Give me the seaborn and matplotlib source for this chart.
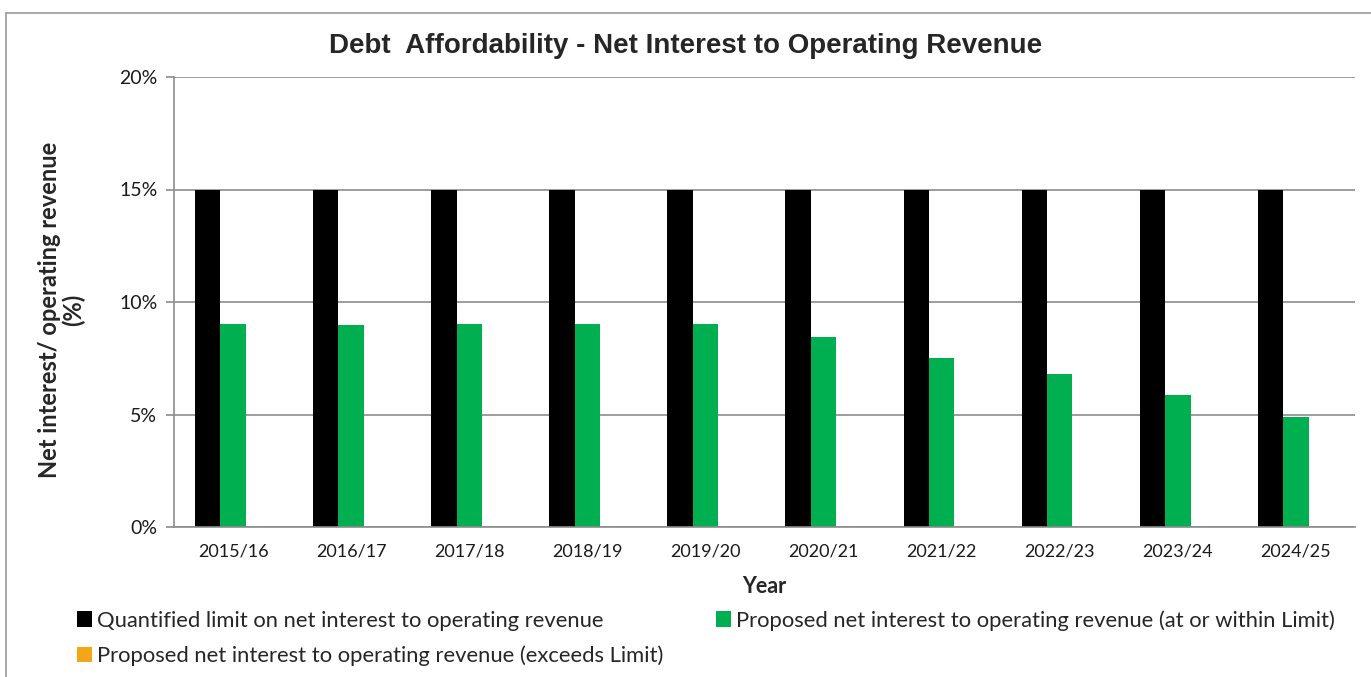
import matplotlib
matplotlib.use("Agg")
import matplotlib.pyplot as plt
from matplotlib.lines import Line2D
from matplotlib.patches import Patch
import seaborn as sns
import pandas as pd

# Financial years and affordability ratios (% of operating revenue)
years = ["2015/16", "2016/17", "2017/18", "2018/19", "2019/20",
         "2020/21", "2021/22", "2022/23", "2023/24", "2024/25"]
limit = [15, 15, 15, 15, 15, 15, 15, 15, 15, 15]
within_limit = [9.04, 8.98, 9.04, 9.04, 9.04, 8.45, 7.53, 6.80, 5.88, 4.89]
exceeds_limit = [0, 0, 0, 0, 0, 0, 0, 0, 0, 0]

series_names = [
    "Quantified limit on net interest to operating revenue",
    "Proposed net interest to operating revenue (at or within Limit)",
    "Proposed net interest to operating revenue (exceeds Limit)",
]
series_colors = ["#000000", "#00B050", "#F5A618"]
y_ticks = [0, 5, 10, 15, 20]

df = pd.DataFrame({
    "Year": years * 3,
    "Value": limit + within_limit + exceeds_limit,
    "Series": [series_names[0]] * len(years)
              + [series_names[1]] * len(years)
              + [series_names[2]] * len(years),
})

sns.set_theme(style="white")
body_font = ["Lato", "DejaVu Sans"]
title_font = ["Liberation Sans Narrow", "Liberation Sans", "DejaVu Sans"]
plt.rcParams["font.family"] = body_font

W, H = 1371, 677
fig = plt.figure(figsize=(W / 100, H / 100), dpi=100)
fig.patch.set_facecolor("white")

x0, x1, ytop, ybot = 174, 1355, 77, 527
ax = fig.add_axes([x0 / W, 1 - ybot / H, (x1 - x0) / W, (ybot - ytop) / H])

sns.barplot(data=df, x="Year", y="Value", hue="Series",
            hue_order=series_names, palette=series_colors,
            width=0.645, saturation=1, ax=ax, legend=False,
            edgecolor="none", linewidth=0)

grid_color = "#8C8C8C"
ax.set_ylim(0, 20)
ax.set_xlim(-0.5, len(years) - 0.5)
ax.set_yticks(y_ticks)
ax.set_yticklabels([f"{v}%" for v in y_ticks], fontsize=14, color="#1a1a1a")
ax.yaxis.grid(True, color=grid_color, linewidth=1.2)
ax.set_axisbelow(True)

# category ticks sit on the boundaries between years
ax.set_xticks(range(len(years)))
ax.set_xticklabels(years, fontsize=13, color="#1a1a1a")
ax.tick_params(axis="x", which="major", length=0, pad=12)
ax.set_xticks([i - 0.5 for i in range(len(years) + 1)], minor=True)
ax.tick_params(axis="x", which="minor", length=6, width=1.2, color=grid_color,
               direction="out")
ax.tick_params(axis="y", length=6, width=1.2, color=grid_color, direction="out",
               left=True, pad=6)

for side in ["top", "right"]:
    ax.spines[side].set_visible(False)
for side in ["left", "bottom"]:
    ax.spines[side].set_color(grid_color)
    ax.spines[side].set_linewidth(1.2)

ax.set_xlabel("Year", fontsize=15.5, fontweight="bold", labelpad=12)
ax.set_ylabel("Net interest/ operating revenue\n(%)", fontsize=17,
              fontweight="bold", linespacing=1.0)
ax.yaxis.set_label_coords((85 - x0) / (x1 - x0), (ybot - 310) / (ybot - ytop))

fig.text(0.5, 1 - 46 / H,
         "Debt  Affordability - Net Interest to Operating Revenue",
         ha="center", va="center", fontsize=20, fontweight="bold",
         family=title_font)

handles = [Patch(facecolor=c, edgecolor="none") for c in series_colors]
order = [0, 2, 1]
leg = fig.legend([handles[i] for i in order], [series_names[i] for i in order],
                 ncol=2, loc="upper left", bbox_to_anchor=(77 / W, 1 - 610 / H),
                 frameon=False, fontsize=15.8, handlelength=0.7,
                 handleheight=0.7, handletextpad=0.2, columnspacing=2.4,
                 labelspacing=0.68, borderpad=0, borderaxespad=0)

# chart-area border
fig.add_artist(Line2D([6 / W, 6 / W], [0, 1 - 13 / H], transform=fig.transFigure,
                      color="#9A9A9A", linewidth=1.2))
fig.add_artist(Line2D([6 / W, 1], [1 - 13 / H, 1 - 13 / H], transform=fig.transFigure,
                      color="#9A9A9A", linewidth=1.2))

fig.savefig("out.png", dpi=100, facecolor="white")
